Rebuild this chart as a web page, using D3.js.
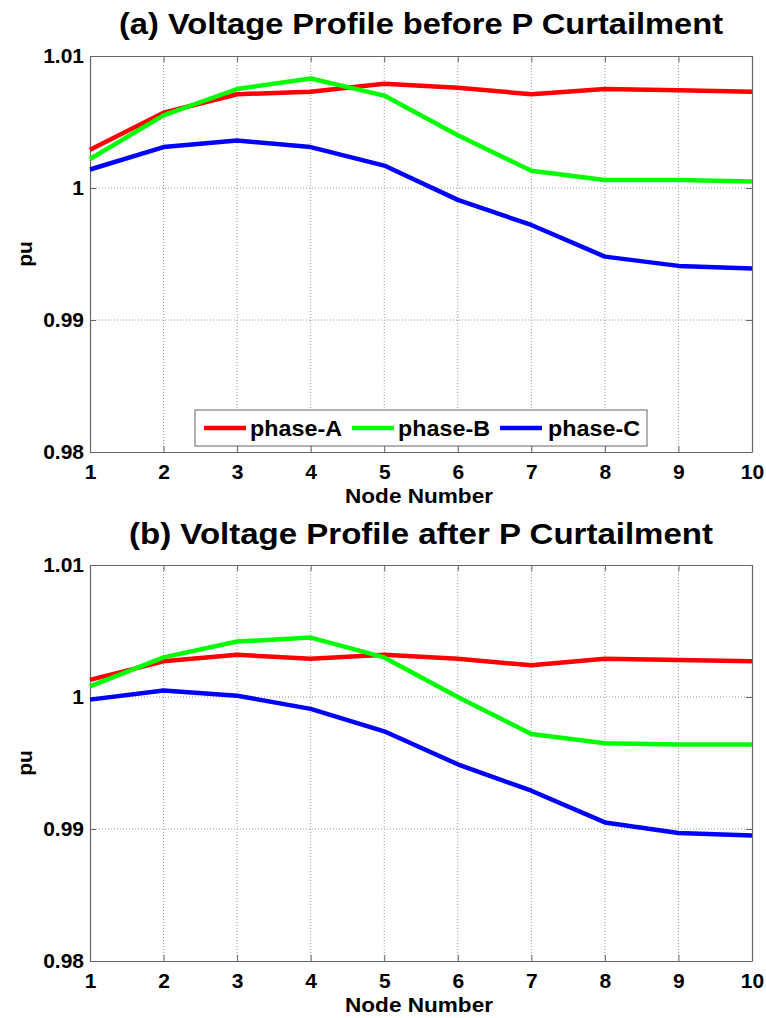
<!DOCTYPE html>
<html>
<head>
<meta charset="utf-8">
<script src="https://cdn.jsdelivr.net/npm/d3@7/dist/d3.min.js"></script>
<style>
  html, body { margin: 0; padding: 0; background: #fff; }
  svg { display: block; font-family: "Liberation Sans", Arial, sans-serif; }
</style>
</head>
<body>
<svg id="chart" width="766" height="1018"></svg>
<script>
// ---- data ----
const nodes = [1, 2, 3, 4, 5, 6, 7, 8, 9, 10];
const xTicks = [1, 2, 3, 4, 5, 6, 7, 8, 9, 10];
const yTicks = [0.98, 0.99, 1.00, 1.01];
const yTickLabels = ["0.98", "0.99", "1", "1.01"];
const seriesNames = ["phase-A", "phase-B", "phase-C"];
const seriesColors = ["#ff0000", "#00ff00", "#0000ff"];

const beforeA = [1.0029, 1.0057, 1.0071, 1.0073, 1.0079, 1.0076, 1.0071, 1.0075, 1.0074, 1.0073];
const beforeB = [1.0022, 1.0055, 1.0075, 1.0083, 1.0070, 1.0040, 1.0013, 1.0006, 1.0006, 1.0005];
const beforeC = [1.0014, 1.0031, 1.0036, 1.0031, 1.0017, 0.9991, 0.9972, 0.9948, 0.9941, 0.9939];

const afterA = [1.0013, 1.0027, 1.0032, 1.0029, 1.0032, 1.0029, 1.0024, 1.0029, 1.0028, 1.0027];
const afterB = [1.0008, 1.0030, 1.0042, 1.0045, 1.0030, 1.0000, 0.9972, 0.9965, 0.9964, 0.9964];
const afterC = [0.9998, 1.0005, 1.0001, 0.9991, 0.9974, 0.9949, 0.9929, 0.9905, 0.9897, 0.9895];

const titles = ["(a) Voltage Profile before P Curtailment", "(b) Voltage Profile after P Curtailment"];
const xLabel = "Node Number";
const yLabel = "pu";

const panels = [
  { title: titles[0], series: [beforeA, beforeB, beforeC], top: 56, bottom: 452, titleY: 34, titleLen: 604, legend: true },
  { title: titles[1], series: [afterA, afterB, afterC], top: 565, bottom: 961, titleY: 544, titleLen: 584, legend: false }
];

const svg = d3.select("#chart");
const left = 90, right = 752;

panels.forEach(p => {
  const g = svg.append("g");
  const x = d3.scaleLinear().domain([1, 10]).range([left, right]);
  const y = d3.scaleLinear().domain([0.98, 1.01]).range([p.bottom, p.top]);

  // title
  g.append("text")
    .attr("x", (left + right) / 2 + 0)
    .attr("y", p.titleY)
    .attr("text-anchor", "middle")
    .attr("font-size", 30)
    .attr("font-weight", "bold")
    .attr("textLength", p.titleLen)
    .attr("lengthAdjust", "spacingAndGlyphs")
    .text(p.title);

  // grid
  g.append("g").selectAll("line.vg").data(xTicks.slice(1, -1)).join("line")
    .attr("x1", d => x(d)).attr("x2", d => x(d))
    .attr("y1", p.top).attr("y2", p.bottom)
    .attr("stroke", "#9a9a9a").attr("stroke-width", 1).attr("stroke-dasharray", "1,2");
  g.append("g").selectAll("line.hg").data(yTicks.slice(1, -1)).join("line")
    .attr("x1", left).attr("x2", right)
    .attr("y1", d => y(d)).attr("y2", d => y(d))
    .attr("stroke", "#9a9a9a").attr("stroke-width", 1).attr("stroke-dasharray", "1,2");

  // axes
  const xAxisB = d3.axisBottom(x).tickValues(xTicks).tickSizeInner(-6).tickSizeOuter(0).tickPadding(10).tickFormat(d3.format("d"));
  const xAxisT = d3.axisTop(x).tickValues(xTicks).tickSizeInner(-6).tickSizeOuter(0).tickFormat("");
  const yAxisL = d3.axisLeft(y).tickValues(yTicks).tickSizeInner(-6).tickSizeOuter(0).tickPadding(6).tickFormat((d, i) => yTickLabels[i]);
  const yAxisR = d3.axisRight(y).tickValues(yTicks).tickSizeInner(-6).tickSizeOuter(0).tickFormat("");

  const axB = g.append("g").attr("transform", `translate(0,${p.bottom})`).call(xAxisB);
  const axT = g.append("g").attr("transform", `translate(0,${p.top})`).call(xAxisT);
  const axL = g.append("g").attr("transform", `translate(${left},0)`).call(yAxisL);
  const axR = g.append("g").attr("transform", `translate(${right},0)`).call(yAxisR);
  [axB, axT, axL, axR].forEach(a => {
    a.selectAll("path.domain").attr("stroke", "#666").attr("stroke-width", 1.2);
    a.selectAll(".tick line").attr("stroke", "#666");
    a.selectAll(".tick text").attr("font-size", 21).attr("font-weight", "bold").attr("fill", "#000")
      .attr("font-family", "Liberation Sans, Arial, sans-serif");
  });
  axB.selectAll(".tick text").attr("dy", "0.71em").attr("y", 12);

  // lines
  const line = d3.line().x((d, i) => x(nodes[i])).y(d => y(d));
  p.series.forEach((s, i) => {
    g.append("path").datum(s)
      .attr("d", line)
      .attr("fill", "none")
      .attr("stroke", seriesColors[i])
      .attr("stroke-width", 4.5)
      .attr("stroke-linejoin", "round");
  });

  // x label
  g.append("text")
    .attr("x", 419).attr("y", p.bottom + 51)
    .attr("text-anchor", "middle")
    .attr("font-size", 21).attr("font-weight", "bold")
    .attr("textLength", 148).attr("lengthAdjust", "spacingAndGlyphs")
    .text(xLabel);

  // y label
  g.append("text")
    .attr("transform", `translate(32,${(p.top + p.bottom) / 2}) rotate(-90)`)
    .attr("text-anchor", "middle")
    .attr("font-size", 21).attr("font-weight", "bold")
    .text(yLabel);

  // legend
  if (p.legend) {
    const lg = g.append("g");
    lg.append("rect").attr("x", 195).attr("y", 410).attr("width", 452).attr("height", 36)
      .attr("fill", "#fff").attr("stroke", "#666").attr("stroke-width", 1);
    const lineX = [204, 352, 500];
    const textX = [250, 398, 548];
    seriesNames.forEach((n, i) => {
      lg.append("line").attr("x1", lineX[i]).attr("x2", lineX[i] + 42)
        .attr("y1", 428).attr("y2", 428)
        .attr("stroke", seriesColors[i]).attr("stroke-width", 4.5);
      lg.append("text").attr("x", textX[i]).attr("y", 436)
        .attr("font-size", 22).attr("font-weight", "bold")
        .attr("textLength", 92).attr("lengthAdjust", "spacingAndGlyphs")
        .text(n);
    });
  }
});
</script>
</body>
</html>
